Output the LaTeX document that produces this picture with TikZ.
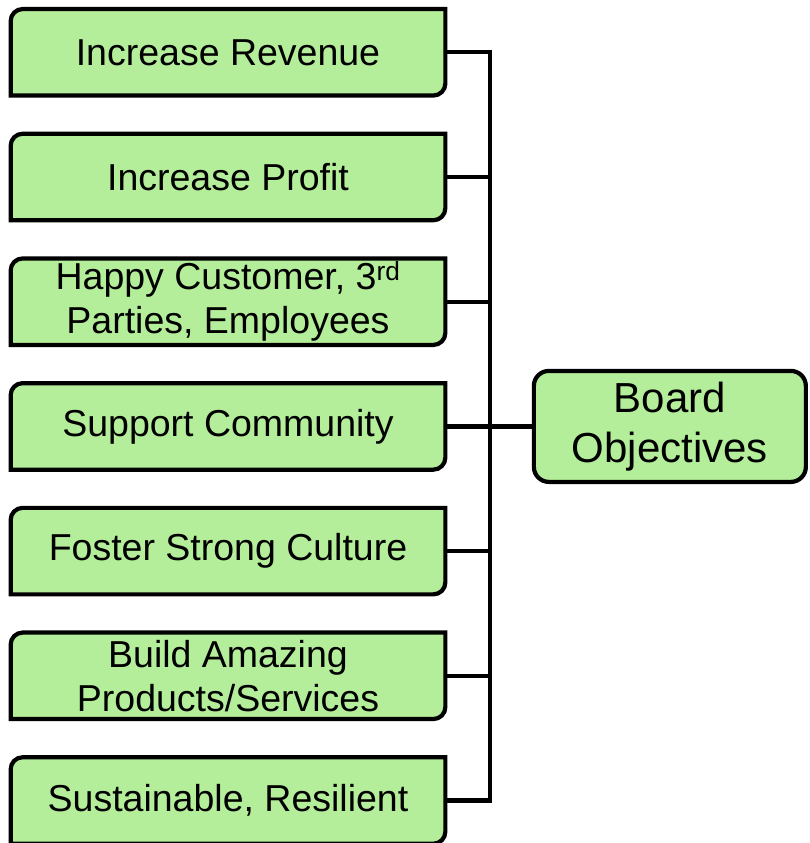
\documentclass[tikz,border=0pt]{standalone}
\usepackage{fontspec}
\setmainfont{Liberation Sans}
\usetikzlibrary{calc, positioning, backgrounds}
\definecolor{objgreen}{RGB}{180,238,154}

\begin{document}
\begin{tikzpicture}[every node/.style={inner sep=0pt, outer sep=0pt, align=center},
                obj/.style={minimum width=434.7pt, minimum height=86.5pt, font=\fontsize{37.5}{44}\selectfont},
                brd/.style={draw, fill=objgreen, line width=4.2pt, rounded corners=15pt, minimum width=272pt, minimum height=111pt, font=\fontsize{42}{50}\selectfont},
                shp/.style={draw, fill=objgreen, line width=4.2pt},
                ln/.style={line width=4.2pt},
                node distance=38.2pt]

    \useasboundingbox (0pt, 0pt) rectangle (810pt, -843pt); % size of the reference

    \node [obj] (rev) at (228pt, -52.3pt) {Increase Revenue}; % fixed position within bbox
    \node [obj, below=of rev]   (prof)  {Increase Profit};
    \node [obj, below=of prof]  (happy) {Happy Customer, 3\textsuperscript{rd}\\Parties, Employees};
    \node [obj, below=of happy] (comm)  {Support Community};
    \node [obj, below=of comm]  (cult)  {Foster Strong Culture};
    \node [obj, below=of cult]  (prod)  {Build Amazing\\Products/Services};
    \node [obj, below=of prod]  (sus)   {Sustainable, Resilient};
    \node [brd, right=88.5pt of comm] (board) {Board\\Objectives};

    \begin{scope}[on background layer]
    \foreach \n in {rev,prof,happy,comm,cult,prod,sus}
        \draw [shp] ([xshift=12pt]\n.north west) -- (\n.north east) -- ([yshift=12pt]\n.south east)
            arc[start angle=0, end angle=-90, radius=12pt] -- (\n.south west) -- ([yshift=-12pt]\n.north west)
            arc[start angle=180, end angle=90, radius=12pt] -- cycle;
    \end{scope}

    \coordinate (bus) at ($(rev.east)!0.5!(board.west)$);
    \draw [ln] (rev.east) -- (rev.east -| bus) -- (sus.east -| bus) -- (sus.east);
    \foreach \n in {prof,happy,comm,cult,prod}
        \draw [ln] (\n.east) -- (\n.east -| bus);
    \draw [ln] (board.west) -- (board.west -| bus);

\end{tikzpicture}
\end{document}
